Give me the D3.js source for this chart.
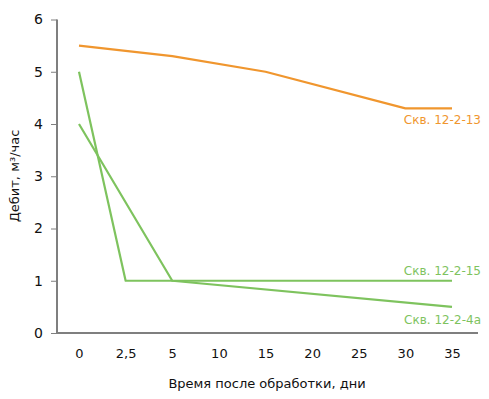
<!DOCTYPE html>
<html><head><meta charset="utf-8">
<script src="https://cdn.jsdelivr.net/npm/d3@7"></script>
<style>body{margin:0;background:#fff}svg{display:block}text{font-family:"DejaVu Sans",Verdana,sans-serif}</style>
</head><body><svg id="c" width="489" height="399"></svg>
<script>
const categories = ["0","2,5","5","10","15","20","25","30","35"];
const yTicks = [0,1,2,3,4,5,6];
const s13 = [5.5,null,5.3,null,5.0,null,null,4.3,4.3];
const s15 = [5.0,1.0,null,null,null,null,null,null,1.0];
const s4a = [4.0,null,1.0,null,null,null,null,null,0.5];
const seriesNames = ["Скв. 12-2-13","Скв. 12-2-15","Скв. 12-2-4а"];
const xTitle = "Время после обработки, дни";
const yTitle = "Дебит, м³/час";

const orange = "#F0962E", green = "#7EC35E", axisCol = "#7f7f7f";
const svg = d3.select("#c");
const x = d3.scalePoint().domain(categories).range([79, 452]);
const y = d3.scaleLinear().domain([0,6]).range([333, 19.5]);

// axes
const yAx = svg.append("g").attr("transform","translate(57,0)")
  .call(d3.axisLeft(y).tickValues(yTicks).tickSize(6).tickPadding(8).tickFormat(d3.format("d")));
yAx.select(".domain").attr("stroke",axisCol).attr("stroke-width",2).attr("d","M0,19.5V333");
yAx.selectAll(".tick line").attr("stroke",axisCol).attr("stroke-width",1);
yAx.selectAll(".tick text").attr("fill","#111").style("font-size","14px").attr("font-family","DejaVu Sans");

const xAx = svg.append("g").attr("transform","translate(0,333)")
  .call(d3.axisBottom(x).tickSize(0).tickPadding(16));
xAx.select(".domain").attr("stroke",axisCol).attr("stroke-width",2).attr("d","M56,0H478");
xAx.selectAll(".tick text").attr("fill","#111").style("font-size","13px").attr("font-family","DejaVu Sans");

svg.append("text").attr("x",267).attr("y",388).attr("text-anchor","middle")
  .style("font-size","13px").attr("fill","#111").text(xTitle);
svg.append("text").attr("transform","translate(19,176) rotate(-90)").attr("text-anchor","middle")
  .style("font-size","13px").attr("fill","#111").text(yTitle);

const line = d3.line().x(d=>x(d.c)).y(d=>y(d.v));
const series = [
  {vals:s13,color:orange,name:seriesNames[0],dy:16},
  {vals:s15,color:green,name:seriesNames[1],dy:-6},
  {vals:s4a,color:green,name:seriesNames[2],dy:17}
];
series.forEach(s=>{
  const pts = categories.map((c,i)=>({c,v:s.vals[i]})).filter(d=>d.v!=null);
  svg.append("path").datum(pts).attr("d",line).attr("fill","none")
    .attr("stroke",s.color).attr("stroke-width",2.2).attr("stroke-linejoin","round");
  const last = pts[pts.length-1];
  svg.append("text").attr("x",x(last.c)+29).attr("y",y(last.v)+s.dy)
    .attr("text-anchor","end").style("font-size","12px").attr("fill",s.color).text(s.name);
});
</script></body></html>
